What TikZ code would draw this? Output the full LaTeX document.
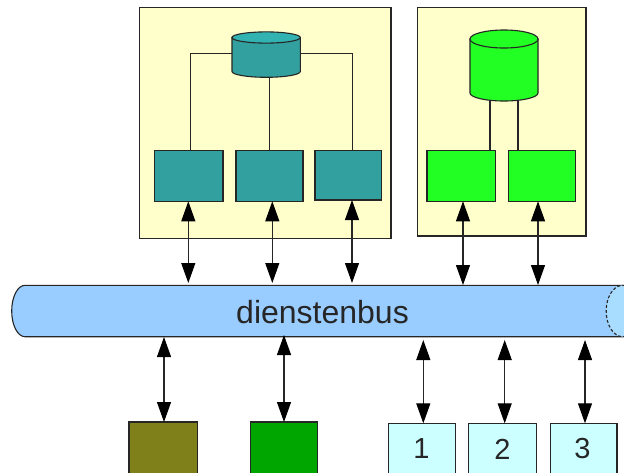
\documentclass[tikz,border=0pt]{standalone}
\usepackage{fontspec}
\setmainfont{Liberation Sans}
\usetikzlibrary{arrows.meta}
\definecolor{panelc}{HTML}{FFFFCC}
\definecolor{tealc}{HTML}{33A0A0}
\definecolor{tealtop}{HTML}{33B2B2}
\definecolor{limec}{HTML}{22FF22}
\definecolor{olivec}{HTML}{80801A}
\definecolor{darkg}{HTML}{00A600}
\definecolor{cyanc}{HTML}{CCFFFF}
\definecolor{busc}{HTML}{99CCFF}
\definecolor{buscap}{HTML}{A8DDFF}
\definecolor{linec}{HTML}{262626}
\tikzset{
  blockbox/.style={draw=linec,line width=1.1pt,inner sep=0pt,outer sep=0pt},
  panelbox/.style={blockbox,fill=panelc},
  tealbox/.style={blockbox,fill=tealc},
  limebox/.style={blockbox,fill=limec},
  olivebox/.style={blockbox,fill=olivec},
  dgbox/.style={blockbox,fill=darkg},
  numbox/.style={blockbox,fill=cyanc},
  numlabel/.style={font=\fontsize{29}{29}\selectfont,inner sep=0pt,text=linec},
  anchorbox/.style={inner sep=0pt,outer sep=0pt},
  wire/.style={draw=linec,line width=1.1pt},
  biarrow/.style={draw=linec,line width=1.1pt,{Triangle[length=20pt,width=14pt,color=black]}-{Triangle[length=20pt,width=14pt,color=black]}},
  shapeline/.style={draw=linec,line width=1.1pt}
}
\begin{document}
\begin{tikzpicture}[x=1pt,y=-1pt]
\path[use as bounding box,clip] (0,0) rectangle (624,472);
\fill[white] (0,0) rectangle (624,472);
% panels
\node[panelbox,minimum width=251.3pt,minimum height=231pt] (p1) at (265.35,123.2) {};
\node[panelbox,minimum width=168.3pt,minimum height=228.3pt] (p2) at (501.85,121.85) {};
% named extents of the cylinders
\node[anchorbox,minimum width=68.3pt,minimum height=45.6pt] (c1) at (266.15,54.5) {};
\node[anchorbox,minimum width=68pt,minimum height=71pt] (c2) at (504,65.5) {};
% boxes
\node[tealbox,minimum width=68.7pt,minimum height=51pt] (t1) at (188.65,175.8) {};
\node[tealbox,minimum width=67pt,minimum height=51pt] (t2) at (269.5,175.8) {};
\node[tealbox,minimum width=66.7pt,minimum height=49.7pt] (t3) at (348.35,175.15) {};
\node[limebox,minimum width=68.7pt,minimum height=51pt] (g1) at (461.35,175.8) {};
\node[limebox,minimum width=67pt,minimum height=51pt] (g2) at (542.2,175.8) {};
\node[olivebox,minimum width=68.7pt,minimum height=60pt] (o1) at (163.35,452) {};
\node[dgbox,minimum width=67pt,minimum height=60pt] (o2) at (284.2,452) {};
\node[numbox,minimum width=67pt,minimum height=60pt] (n1) at (421.8,453.3) {};
\node[numbox,minimum width=68.4pt,minimum height=60pt] (n2) at (502.5,453.3) {};
\node[numbox,minimum width=66.7pt,minimum height=60pt] (n3) at (583.65,453.3) {};
\node[numlabel] (l1) at (421.5,449) {1};
\node[numlabel] (l2) at (502.5,449) {2};
\node[numlabel] (l3) at (582.5,449) {3};
% connectors inside the panels
\coordinate (w1) at (190.7,53.3);
\coordinate (w3) at (352.3,53.3);
\draw[wire] (c1.west |- w1) -- (w1) -- (w1 |- t1.north);
\draw[wire] (c1.east |- w3) -- (w3) -- (w3 |- t3.north);
\draw[wire] (t2.north) -- (t2.north |- c1.south);
\coordinate (w4) at (490,95);
\coordinate (w5) at (518,95);
\draw[wire] (w4) -- (w4 |- g1.north);
\draw[wire] (w5) -- (w5 |- g2.north);
% cylinder 1
\path[shapeline,fill=tealc] (232,37.5) -- (232,71.5) arc[start angle=180,end angle=0,x radius=34.15,y radius=5.8] -- (300.3,37.5) -- cycle;
\path[shapeline,fill=tealtop] (266.15,37.5) ellipse[x radius=34.15,y radius=5.6];
% cylinder 2
\path[shapeline,fill=limec] (470,39) -- (470,93) arc[start angle=180,end angle=0,x radius=34,y radius=8] -- (538,39) -- cycle;
\path[shapeline,fill=limec] (504,39) ellipse[x radius=34,y radius=9];
% bus
\path[shapeline,fill=busc] (622.7,285.3) -- (25,285.3) arc[start angle=270,end angle=90,x radius=13.3,y radius=25.7] -- (622.7,336.7) -- cycle;
\path[shapeline,densely dashed,fill=buscap] (622.7,311) ellipse[x radius=16.5,y radius=25.7];
\node[font=\fontsize{32}{32}\selectfont,inner sep=0pt,text=linec] (busl) at (322.5,312) {dienstenbus};
% bus connectors
\coordinate (a1) at (188.3,283);
\coordinate (a2) at (272.3,283);
\coordinate (a3) at (352,283);
\coordinate (a4) at (463,285);
\coordinate (a5) at (538,285);
\coordinate (b1) at (164,337);
\coordinate (b2) at (284,335);
\coordinate (b3) at (423.3,340);
\coordinate (b4) at (504.7,340);
\coordinate (b5) at (585,340);
\draw[biarrow] (a1 |- t1.south) -- (a1);
\draw[biarrow] (a2 |- t2.south) -- (a2);
\draw[biarrow] (a3 |- t3.south) -- (a3);
\draw[biarrow] (a4 |- g1.south) -- (a4);
\draw[biarrow] (a5 |- g2.south) -- (a5);
\draw[biarrow] (b1) -- (b1 |- o1.north);
\draw[biarrow] (b2) -- (b2 |- o2.north);
\draw[biarrow] (b3) -- (b3 |- n1.north);
\draw[biarrow] (b4) -- (b4 |- n2.north);
\draw[biarrow] (b5) -- (b5 |- n3.north);
\end{tikzpicture}
\end{document}
